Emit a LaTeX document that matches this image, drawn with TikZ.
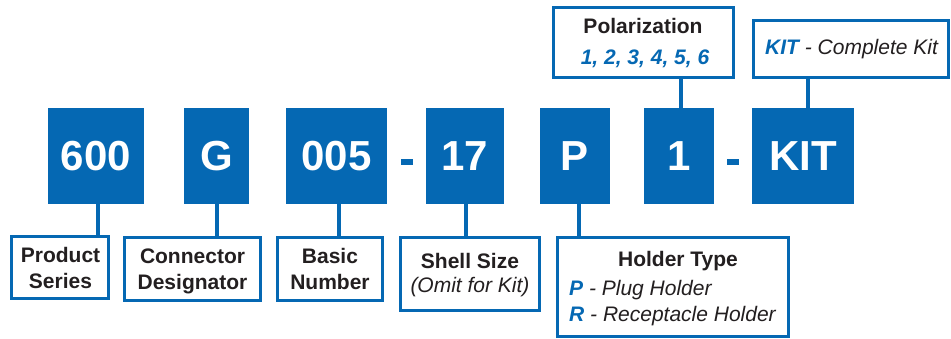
\documentclass[tikz,border=0pt]{standalone}
\usepackage{fontspec}
\setmainfont{Liberation Sans}
\definecolor{pnblue}{HTML}{0568B3}
\definecolor{pndark}{HTML}{231F20}
\begin{document}
\begin{tikzpicture}[x=1pt,y=-1pt,
  code/.style={fill=pnblue,text=white,inner sep=0pt,minimum height=96pt,
    font=\bfseries\fontsize{42}{42}\selectfont},
  labbox/.style={draw=pnblue,line width=3.3pt,fill=white,inner sep=0pt},
  conn/.style={draw=pnblue,line width=3.3pt},
  lt/.style={anchor=base,inner sep=0pt,text=pndark,font=\bfseries\fontsize{21}{26}\selectfont},
  it/.style={anchor=base,inner sep=0pt,text=pndark,font=\itshape\fontsize{21}{26}\selectfont},
  bit/.style={text=pnblue,font=\bfseries\itshape},
  dashbar/.style={fill=pnblue,inner sep=0pt,minimum width=12pt,minimum height=6pt}
]
\useasboundingbox (0,0) rectangle (951,339);
% code boxes
\node[code,minimum width=96pt]  (c600) at (96,156) {600};
\node[code,minimum width=65pt]  (cG)   at (216.5,156) {G};
\node[code,minimum width=101pt] (c005) at (336.5,156) {005};
\node[dashbar] (d1) at (407,162) {};
\node[code,minimum width=78pt]  (c17)  at (465,156) {17};
\node[code,minimum width=70pt]  (cP)   at (575,156) {P};
\node[code,minimum width=70pt]  (c1)   at (679,156) {1};
\node[dashbar] (d2) at (733,162) {};
\node[code,minimum width=102pt] (cKIT) at (803,156) {KIT};
% label boxes
\node[labbox,minimum width=96.7pt,minimum height=61.7pt] (bPS) at (60,267.5) {};
\node[labbox,minimum width=135.7pt,minimum height=62.7pt] (bCD) at (192.5,269) {};
\node[labbox,minimum width=104.7pt,minimum height=62.7pt] (bBN) at (330,269) {};
\node[labbox,minimum width=138.7pt,minimum height=72.7pt] (bSS) at (470,274) {};
\node[labbox,minimum width=230.7pt,minimum height=98.7pt] (bHT) at (673,287) {};
\node[labbox,minimum width=179.7pt,minimum height=69.7pt] (bPO) at (643.5,42.5) {};
\node[labbox,minimum width=194.7pt,minimum height=56.7pt] (bKT) at (851,49) {};
% connectors
\draw[conn] (c600.south -| 98,0) -- (bPS.north -| 98,0);
\draw[conn] (cG.south -| 217,0) -- (bCD.north -| 217,0);
\draw[conn] (c005.south -| 339,0) -- (bBN.north -| 339,0);
\draw[conn] (c17.south -| 466,0) -- (bSS.north -| 466,0);
\draw[conn] (cP.south -| 579,0) -- (bHT.north -| 579,0);
\draw[conn] (bPO.south -| 681,0) -- (c1.north -| 681,0);
\draw[conn] (bKT.south -| 808,0) -- (cKIT.north -| 808,0);
% label texts
\node[lt] (tPS1) at (60.5,263) {Product};
\node[lt] (tPS2) at (60.5,289) {Series};
\node[lt] (tCD1) at (192.5,264) {Connector};
\node[lt] (tCD2) at (192.5,290) {Designator};
\node[lt] (tBN1) at (330,264) {Basic};
\node[lt] (tBN2) at (330,290) {Number};
\node[lt] (tSS1) at (470,269) {Shell Size};
\node[it] (tSS2) at (470,292) {(Omit for Kit)};
\node[lt] (tHT1) at (678,267) {Holder Type};
\node[it,anchor=base west] (tHT2) at (569,296) {{\bfseries\color{pnblue}P} - Plug Holder};
\node[it,anchor=base west] (tHT3) at (569,322) {{\bfseries\color{pnblue}R} - Receptacle Holder};
\node[lt] (tPO1) at (643,34) {Polarization};
\node[it] (tPO2) at (645,65) {{\bfseries\color{pnblue}1, 2, 3, 4, 5, 6}};
\node[it,anchor=base west] (tKT) at (765,55) {{\bfseries\color{pnblue}KIT} - Complete Kit};
\end{tikzpicture}
\end{document}
